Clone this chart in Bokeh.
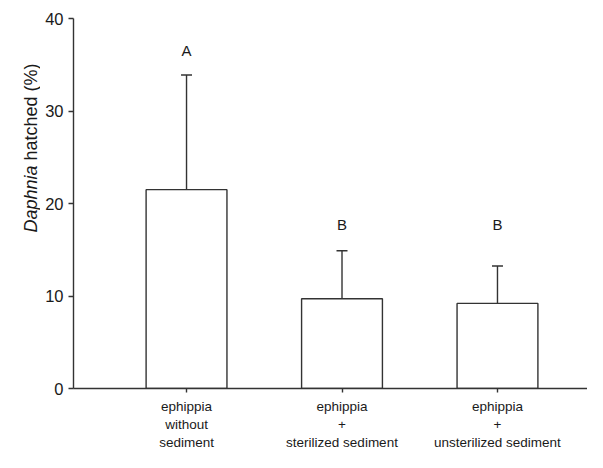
import math
from bokeh.plotting import figure
from bokeh.layouts import row
from bokeh.models import (ColumnDataSource, FixedTicker, Range1d, Whisker, TeeHead, Label)
from bokeh.core.properties import value
from bokeh.embed import file_html
from bokeh.resources import INLINE

# ---- data ----
categories = ["ephippia\nwithout\nsediment",
              "ephippia\n+\nsterilized sediment",
              "ephippia\n+\nunsterilized sediment"]
positions = [1, 2, 3]
means = [21.5, 9.7, 9.2]
errors = [12.4, 5.2, 4.05]
letters = ["A", "B", "B"]
letter_y = [36.5, 17.7, 17.7]
y_ticks = [0, 10, 20, 30, 40]

FONT = "Liberation Sans"
INK = "#333333"
TXT = "#1a1a1a"
H = 452
TITLE_W = 40

src = ColumnDataSource(dict(
    x=positions, top=means,
    upper=[m + e for m, e in zip(means, errors)],
    lower=means,
    lab=letters, ly=letter_y,
))

p = figure(width=587 - TITLE_W, height=H, output_backend="svg", toolbar_location=None,
           x_range=Range1d(0.273, 3.579), y_range=Range1d(0, 40),
           min_border_left=73 - TITLE_W, min_border_right=0, min_border_top=18,
           min_border_bottom=50)
p.outline_line_color = None
p.xgrid.visible = False
p.ygrid.visible = False
p.background_fill_color = "white"
p.border_fill_color = "white"

p.vbar(x="x", top="top", bottom=0, width=0.52, source=src,
       fill_color="white", line_color=INK, line_width=1.4)

wh = Whisker(base="x", upper="upper", lower="lower", source=src,
             line_color=INK, line_width=1.4,
             upper_head=TeeHead(size=11, line_color=INK, line_width=1.4),
             lower_head=None)
p.add_layout(wh)

p.text(x="x", y="ly", text="lab", source=src, text_align="center",
       text_baseline="middle", text_font=value(FONT), text_font_size="15px",
       text_color=TXT)

# axes
p.yaxis.ticker = FixedTicker(ticks=y_ticks)
p.yaxis.minor_tick_line_color = None
p.yaxis.major_tick_out = 5
p.yaxis.major_tick_in = 0
p.yaxis.major_label_text_font = FONT
p.yaxis.major_label_text_font_size = "16.5px"
p.yaxis.major_label_text_color = TXT
p.yaxis.axis_line_color = INK
p.yaxis.axis_line_width = 1.4
p.yaxis.major_tick_line_color = INK
p.yaxis.major_tick_line_width = 1.4
p.yaxis.major_label_standoff = 5

p.xaxis.ticker = FixedTicker(ticks=positions)
p.xaxis.major_label_overrides = {pos: c for pos, c in zip(positions, categories)}
p.xaxis.minor_tick_line_color = None
p.xaxis.major_tick_out = 4
p.xaxis.major_tick_in = 0
p.xaxis.major_label_text_font = FONT
p.xaxis.major_label_text_font_size = "13.5px"
p.xaxis.major_label_text_color = TXT
p.xaxis.axis_line_color = INK
p.xaxis.axis_line_width = 1.4
p.xaxis.major_tick_line_color = INK
p.xaxis.major_tick_line_width = 1.4
p.xaxis.major_label_standoff = 6

# y-axis title panel: italic genus name + plain remainder
t = figure(width=TITLE_W, height=H, output_backend="svg", toolbar_location=None,
           x_axis_location=None, y_axis_location=None,
           x_range=Range1d(0, 1), y_range=Range1d(0, 1),
           min_border_left=0, min_border_right=0, min_border_top=0, min_border_bottom=0)
t.outline_line_color = None
t.xgrid.visible = False
t.ygrid.visible = False
t.background_fill_color = "white"
t.border_fill_color = "white"

lab1 = Label(x=30, y=156, x_units="screen", y_units="screen", angle=math.pi / 2,
             text="Daphnia", text_font=FONT, text_font_style="italic",
             text_font_size="18px", text_color=TXT,
             text_align="left", text_baseline="middle")
lab2 = Label(x=30, y=228, x_units="screen", y_units="screen", angle=math.pi / 2,
             text="hatched (%)", text_font=FONT,
             text_font_size="18px", text_color=TXT,
             text_align="left", text_baseline="middle")
t.add_layout(lab1)
t.add_layout(lab2)

layout = row(t, p, spacing=0)
open("out.html", "w").write(file_html(layout, INLINE))
